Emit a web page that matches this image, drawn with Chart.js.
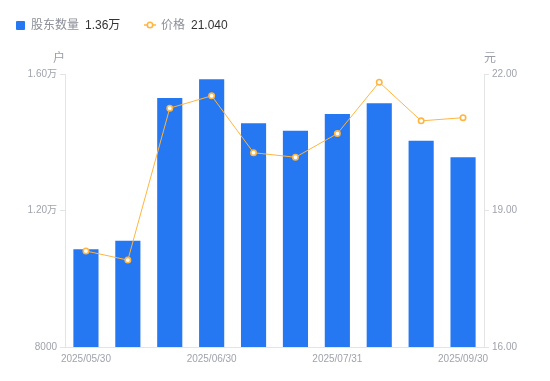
<!DOCTYPE html>
<html><head><meta charset="utf-8">
<script src="https://cdn.jsdelivr.net/npm/chart.js@4"></script>
<style>
html,body{margin:0;padding:0;background:#fff;}
#wrap{position:relative;width:550px;height:381px;font-family:"Liberation Sans",Arial,"Noto Sans CJK SC",sans-serif;}
canvas{position:absolute;left:0;top:0;}
.lg{position:absolute;top:17px;font-size:12px;line-height:16px;white-space:nowrap;color:#8c8f99;}
.lg b{font-weight:normal;color:#333;margin-left:6px;}
.unit{position:absolute;top:48px;font-size:12px;color:#9a9ea8;}
</style></head><body>
<div id="wrap">
<canvas id="c" width="550" height="381"></canvas>
<div class="lg" style="left:16px;"><span style="display:inline-block;width:9px;height:9px;background:#2677f2;border-radius:1px;margin-right:6px;vertical-align:-1px;"></span>股东数量<b>1.36万</b></div>
<div class="lg" style="left:144px;"><svg width="12" height="10" style="vertical-align:-1px;margin-right:5px;"><line x1="0" y1="5" x2="12" y2="5" stroke="#ffb53f" stroke-width="1.5"/><circle cx="6" cy="5" r="2.7" fill="#fff" stroke="#ffb53f" stroke-width="1.6"/></svg>价格<b>21.040</b></div>
<div class="unit" style="left:53px;">户</div>
<div class="unit" style="left:484px;">元</div>
</div>
<script>
const categories = ['2025/05/30','2025/06/10','2025/06/20','2025/06/30','2025/07/10','2025/07/20','2025/07/31','2025/08/20','2025/09/10','2025/09/30'];
const shownLabels = [0,3,6,9];
const holders = [10863,11115,15297,15845,14555,14339,14828,15141,14046,13560];
const prices = [18.11,17.91,21.25,21.52,20.27,20.17,20.69,21.82,20.97,21.04];
const leftTicks = {min:8000,max:16000,step:4000};
const rightTicks = {min:16,max:22,step:3};

const tickColor = '#a0a3ad';
const axisColor = '#e3e4e8';
const font = {family:'"Liberation Sans", Arial, "Noto Sans CJK SC", sans-serif', size:10};

new Chart(document.getElementById('c'), {
  data: {
    labels: categories,
    datasets: [
      {type:'line', label:'价格', data:prices, yAxisID:'y1', borderColor:'#ffb53f', borderWidth:1,
       pointRadius:2.7, pointBorderWidth:1.6, pointBackgroundColor:'#fff', pointBorderColor:'#ffb53f',
       tension:0, order:0},
      {type:'bar', label:'股东数量', data:holders, yAxisID:'y', backgroundColor:'#2677f2',
       barPercentage:0.6, categoryPercentage:1, order:1}
    ]
  },
  options: {
    responsive:false, animation:false,
    layout:{padding:{top:74,left:0,right:0,bottom:0}},
    plugins:{legend:{display:false}, tooltip:{enabled:false}},
    scales:{
      x:{
        grid:{display:false, drawTicks:false},
        border:{display:true,color:axisColor,width:1},
        ticks:{autoSkip:false,maxRotation:0,color:tickColor,font:font,padding:6,
          callback:function(v,i){return shownLabels.includes(i)?categories[i]:'';}},
        afterFit:function(s){s.height=34;}
      },
      y:{
        position:'left', min:leftTicks.min, max:leftTicks.max,
        grid:{display:true, drawOnChartArea:false, drawTicks:true, tickLength:5, color:axisColor},
        border:{display:true,color:axisColor,width:1},
        ticks:{stepSize:leftTicks.step,color:tickColor,font:font,padding:3,
          callback:function(v){return v>=10000?(v/10000).toFixed(2)+'万':String(v);}},
        afterFit:function(s){s.width=65;}
      },
      y1:{
        position:'right', min:rightTicks.min, max:rightTicks.max,
        grid:{display:true, drawOnChartArea:false, drawTicks:true, tickLength:5, color:axisColor},
        border:{display:true,color:axisColor,width:1},
        ticks:{stepSize:rightTicks.step,color:tickColor,font:font,padding:3,
          callback:function(v){return v.toFixed(2);}},
        afterFit:function(s){s.width=66;}
      }
    }
  }
});
</script>
</body></html>
